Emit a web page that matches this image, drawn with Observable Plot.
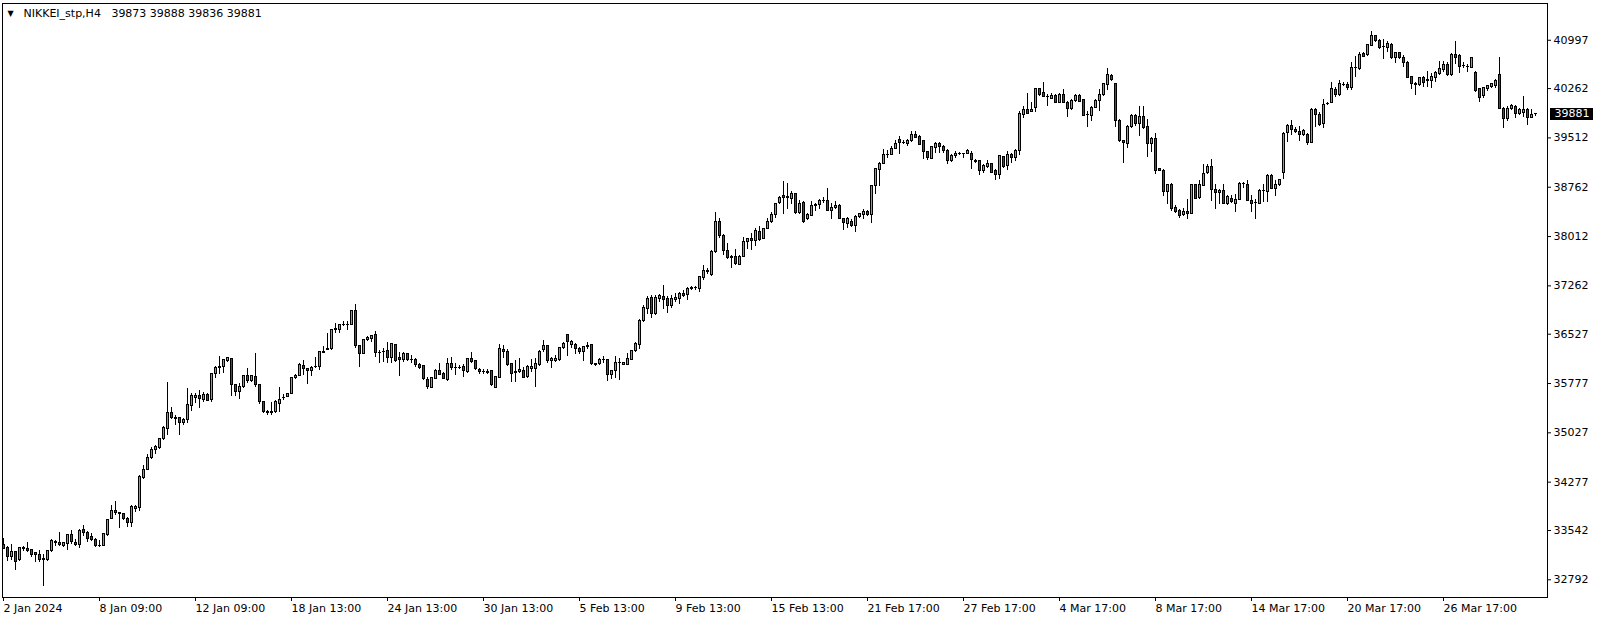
<!DOCTYPE html>
<html><head><meta charset="utf-8">
<script src="https://cdn.jsdelivr.net/npm/d3@7"></script>
<script src="https://cdn.jsdelivr.net/npm/@observablehq/plot@0.6"></script>
<style>
html,body{margin:0;padding:0;background:#fff;}
#chart svg{display:block;}
</style></head><body>
<div id="chart"></div>
<script>
const symbol = "NIKKEI_stp";
const timeframe = "H4";

const opens = [
33315,33280,33137,33219,33086,33254,33264,33244,33193,33168,
33091,33091,33229,33371,33356,33305,33330,33473,33356,33320,
33549,33498,33447,33396,33305,33305,33468,33712,33839,33804,
33788,33722,33651,33865,33880,34333,34460,34643,34770,34790,
34933,35085,35325,35248,35248,35172,35228,35442,35554,35584,
35528,35610,35528,35915,36011,36027,36118,36144,35747,35645,
35721,35884,35813,35874,35747,35493,35340,35335,35340,35467,
35555,35579,35620,35859,35894,36042,35991,35960,36022,36027,
36250,36290,36296,36587,36597,36668,36673,36673,36876,36342,
36230,36434,36459,36510,36240,36250,36266,36169,36357,36164,
36128,36220,36128,36128,36052,36037,35833,35711,35849,35966,
35915,35823,36067,36017,36012,36027,35950,36144,36113,35986,
35950,35945,35961,35706,35864,36291,36251,36067,35935,35950,
35966,35874,36001,35991,36062,36281,36347,36113,36113,36128,
36317,36510,36357,36357,36296,36256,36337,36357,36067,36067,
36128,36128,35899,35960,36093,36062,36062,36139,36271,36357,
36729,36917,37080,36841,37069,37095,37059,36952,37054,37069,
37136,37120,37217,37222,37212,37385,37481,37426,37772,38239,
38026,37792,37690,37700,37578,37705,37934,37975,37944,38077,
37970,38128,38239,38341,38519,38631,38601,38580,38662,38367,
38529,38275,38331,38484,38494,38555,38555,38407,38443,38484,
38280,38204,38239,38173,38316,38341,38387,38336,38774,39028,
39119,39252,39257,39348,39486,39435,39425,39460,39562,39526,
39460,39292,39196,39359,39425,39369,39318,39165,39242,39267,
39270,39272,39272,39165,39155,39002,39068,39114,39002,38952,
39216,39079,39257,39206,39308,39867,39933,39908,39969,40249,
40188,40132,40111,40147,40045,40157,40045,39959,40071,40147,
40081,39862,39842,39969,40071,40157,40310,40452,40325,39776,
39460,39425,39684,39842,39730,39826,39674,39425,39501,39043,
39012,38697,38799,38453,38402,38341,38392,38351,38789,38595,
38784,38977,39063,38723,38672,38712,38504,38590,38504,38570,
38809,38799,38555,38529,38509,38707,38697,38936,38733,38799,
38977,39587,39699,39638,39608,39552,39552,39435,39943,39867,
39725,40030,40045,40239,40157,40315,40310,40274,40569,40554,
40783,40768,40910,41063,40986,40895,40885,40925,40732,40798,
40722,40656,40437,40325,40310,40417,40381,40376,40417,40488,
40544,40620,40467,40773,40757,40600,40595,40579,40503,40249,
40147,40249,40284,40300,40467,39959,39806,39959,39979,39877,
39893,39943,39816,39873];

const highs = [
33417,33295,33330,33229,33290,33295,33366,33254,33214,33244,
33178,33244,33407,33391,33508,33366,33483,33549,33407,33560,
33620,33534,33493,33417,33396,33493,33712,33916,33982,33814,
33804,33738,33916,33916,34373,34536,34704,34806,34831,34948,
35126,35788,35416,35289,35264,35248,35706,35620,35620,35670,
35645,35630,35935,36037,36190,36139,36179,36154,35762,35772,
35899,36011,35899,36240,35757,35503,35366,35493,35518,35721,
35610,35630,35874,35915,36077,36128,36011,36037,36179,36266,
36342,36536,36602,36688,36678,36724,36714,36892,36983,36357,
36444,36495,36510,36561,36281,36306,36408,36393,36373,36256,
36256,36240,36205,36154,36088,36052,35874,35874,35986,36088,
35950,36154,36169,36078,36052,36062,36159,36256,36128,36001,
35986,35986,35976,35884,36373,36357,36291,36088,36128,36154,
36027,36052,36139,36154,36281,36434,36357,36169,36205,36322,
36408,36520,36424,36393,36332,36347,36408,36368,36078,36154,
36190,36139,35976,36190,36154,36103,36230,36281,36398,36749,
36958,37095,37120,37120,37130,37273,37095,37120,37146,37161,
37186,37232,37247,37258,37400,37578,37527,37807,38377,38290,
38036,37899,37731,37822,37731,37995,37985,38056,38128,38163,
38138,38280,38372,38519,38621,38850,38814,38697,38672,38555,
38545,38367,38545,38519,38570,38606,38748,38519,38545,38494,
38290,38300,38275,38326,38367,38417,38402,38789,39053,39140,
39333,39318,39374,39476,39537,39470,39486,39603,39613,39547,
39470,39308,39384,39445,39445,39394,39333,39257,39308,39292,
39282,39333,39308,39180,39170,39104,39170,39130,39028,39247,
39231,39308,39282,39333,39918,39994,40183,40055,40264,40259,
40350,40172,40183,40172,40183,40249,40071,40096,40172,40172,
40096,39918,39994,40096,40249,40340,40569,40478,40335,39791,
39475,39699,39867,39867,39994,39994,39791,39521,39572,39053,
39028,38809,38814,38478,38417,38443,38580,38809,38809,38860,
39114,39114,39191,38809,38733,38804,38631,38631,38646,38834,
38834,38865,38636,38580,38733,38799,38951,38951,38860,38875,
39598,39715,39781,39664,39679,39638,39577,39959,39954,39903,
40096,40055,40361,40274,40391,40350,40350,40666,40757,40818,
40818,40935,41124,41073,41002,41002,40971,40951,40818,40818,
40768,40671,40437,40350,40437,40452,40518,40488,40528,40681,
40671,40656,40793,40976,40773,40656,40630,40742,40518,40264,
40284,40315,40335,40401,40742,39979,39994,40020,40010,39959,
40147,39959,39943,39888];

const lows = [
33254,33076,33091,32934,33076,33229,33214,33137,33061,33051,
32694,33066,33214,33305,33295,33280,33244,33325,33295,33269,
33458,33366,33371,33285,33280,33295,33458,33702,33763,33575,
33687,33595,33585,33814,33829,34322,34450,34628,34704,34770,
34912,34984,35228,35137,34984,35137,35172,35355,35467,35391,
35493,35508,35493,35849,35915,35935,36098,35579,35579,35533,
35706,35772,35798,35721,35457,35315,35289,35289,35325,35340,
35518,35559,35610,35844,35884,35899,35762,35884,36001,35976,
36230,36281,36286,36536,36536,36637,36587,36663,36306,36016,
36215,36419,36408,36179,36088,36103,36088,36077,36098,35884,
36103,36113,36078,36027,35991,35823,35681,35696,35833,35900,
35833,35808,35976,35900,35986,35874,35935,36078,35976,35915,
35910,35915,35732,35696,35849,36154,36037,35798,35798,35925,
35859,35859,35950,35711,36037,36256,36088,36001,36093,36113,
36301,36190,36307,36220,36220,36118,36291,36052,36042,36052,
36078,35808,35838,35859,35823,36052,36052,36128,36256,36296,
36698,36825,36764,36805,37008,36907,36841,36917,37003,36978,
37085,37034,37186,37186,37161,37349,37441,37400,37756,37985,
37721,37670,37527,37578,37568,37690,37817,37802,37868,37944,
37960,38117,38214,38290,38494,38351,38417,38494,38351,38341,
38214,38255,38316,38392,38428,38509,38392,38265,38417,38265,
38097,38138,38153,38077,38290,38265,38316,38214,38646,38774,
39104,39206,39242,39333,39257,39409,39374,39445,39496,39394,
39180,39170,39191,39282,39282,39272,39104,39145,39206,39242,
39206,39257,39038,39119,38941,38977,39043,38967,38860,38875,
39053,39012,39130,39155,39247,39806,39867,39893,39893,40142,
40121,39984,40096,40035,40030,40030,39816,39933,40055,40045,
39842,39664,39765,39954,39908,40137,40233,40376,39664,39445,
39130,39358,39648,39689,39526,39638,39216,39297,38962,39002,
38621,38494,38392,38366,38290,38316,38265,38341,38570,38580,
38773,38962,38544,38428,38494,38494,38484,38519,38377,38560,
38748,38544,38382,38275,38494,38529,38529,38723,38621,38773,
38875,39435,39547,39577,39460,39526,39394,39425,39664,39679,
39654,40004,40035,40132,40137,40300,40239,40233,40427,40539,
40732,40757,40900,40961,40859,40706,40808,40706,40645,40706,
40579,40417,40249,40162,40300,40284,40274,40259,40350,40467,
40503,40452,40452,40630,40488,40569,40503,40569,40208,40045,
40111,40223,40264,40264,39943,39653,39765,39928,39806,39852,
39816,39704,39806,39836];

const closes = [
33264,33137,33214,33061,33280,33280,33229,33168,33168,33091,
33102,33229,33381,33346,33315,33356,33473,33366,33320,33534,
33498,33407,33396,33305,33310,33483,33702,33839,33804,33800,
33712,33661,33900,33900,34348,34465,34643,34770,34806,34933,
35096,35325,35248,35244,35172,35228,35452,35584,35584,35543,
35610,35518,35915,36011,36027,36128,36164,35747,35645,35721,
35884,35813,35884,35747,35493,35340,35335,35345,35503,35533,
35559,35620,35859,35894,36052,35991,35960,36011,36027,36250,
36245,36296,36587,36612,36663,36673,36668,36881,36342,36230,
36434,36470,36500,36240,36235,36256,36169,36373,36118,36128,
36220,36128,36139,36052,36017,35839,35722,35859,35966,35910,
35849,36067,36017,36012,36017,35961,36144,36103,36001,35950,
35955,35940,35747,35874,36296,36256,36062,35925,35950,35976,
35864,36027,36027,36067,36256,36347,36113,36149,36149,36317,
36373,36408,36408,36296,36256,36332,36342,36067,36062,36128,
36133,35899,35960,36093,36088,36093,36144,36271,36373,36729,
36927,37069,36841,37080,37110,37054,36952,37059,37080,37136,
37105,37212,37222,37232,37390,37487,37476,37782,38239,38021,
37792,37680,37695,37593,37705,37934,37975,37944,38097,37960,
38128,38239,38341,38509,38601,38596,38606,38662,38367,38509,
38229,38341,38478,38494,38555,38560,38402,38453,38484,38280,
38214,38280,38173,38316,38351,38387,38336,38774,39038,39119,
39247,39257,39348,39425,39435,39440,39470,39562,39511,39409,
39292,39206,39369,39425,39369,39308,39165,39242,39272,39270,
39267,39318,39180,39145,39002,39079,39114,38977,38952,39231,
39068,39257,39206,39308,39877,39943,39882,39943,40249,40157,
40132,40137,40147,40045,40157,40045,39959,40071,40147,40060,
39852,39867,39969,40071,40157,40325,40462,40391,39776,39460,
39430,39684,39842,39730,39826,39664,39425,39501,39012,39012,
38697,38799,38433,38392,38331,38392,38351,38789,38585,38799,
38967,39063,38723,38672,38712,38504,38606,38534,38570,38814,
38814,38555,38509,38524,38707,38712,38936,38733,38799,38865,
39577,39699,39628,39598,39557,39623,39435,39943,39867,39704,
40020,40035,40249,40157,40325,40310,40274,40569,40574,40768,
40747,40920,41063,40986,40885,40900,40935,40732,40798,40722,
40645,40427,40325,40320,40417,40350,40386,40437,40503,40554,
40620,40467,40767,40732,40595,40605,40590,40732,40223,40121,
40264,40300,40325,40376,39959,39801,39959,39994,39877,39943,
39943,39816,39867,39881];

const xTickBars = [0,24,48,72,96,120,144,168,192,216,240,264,288,312,336,360];
const xTickLabels = ["2 Jan 2024","8 Jan 09:00","12 Jan 09:00","18 Jan 13:00","24 Jan 13:00","30 Jan 13:00","5 Feb 13:00","9 Feb 13:00","15 Feb 13:00","21 Feb 17:00","27 Feb 17:00","4 Mar 17:00","8 Mar 17:00","14 Mar 17:00","20 Mar 17:00","26 Mar 17:00"];
const yTickValues = [40997,40262,39512,38762,38012,37262,36527,35777,35027,34277,33542,32792];

const bullColor = "#00ff00";
const bearColor = "#ff0000";
const FONT = "'DejaVu Sans', sans-serif";

const n = Math.min(opens.length, highs.length, lows.length, closes.length);
const bars = d3.range(n).map(i => ({i, o: opens[i], h: highs[i], l: lows[i], c: closes[i]}));
const last = bars[bars.length - 1];
const bull = bars.filter(d => d.c >= d.o);
const bear = bars.filter(d => d.c < d.o);

const bodyOuter = {x1: "i", x2: "i", y1: "o", y2: "c", insetLeft: -1.25, insetRight: -1.75, insetTop: -0.5, insetBottom: -0.5, shapeRendering: "crispEdges"};
const bodyInner = {x1: "i", x2: "i", y1: "o", y2: "c", insetLeft: -0.25, insetRight: -0.75, insetTop: 0.5, insetBottom: 0.5, shapeRendering: "crispEdges"};

const chart = Plot.plot({
  width: 1604, height: 621,
  marginLeft: 2, marginRight: 57, marginTop: 3, marginBottom: 24,
  style: {fontFamily: FONT, fontSize: "11px", background: "#fff", color: "#000", overflow: "visible"},
  x: {domain: [-0.25, 386], axis: null},
  y: {domain: [32523, 41556], axis: null},
  marks: [
    Plot.ruleX(bars, {x: "i", y1: "l", y2: "h", stroke: "#000", strokeWidth: 1, shapeRendering: "crispEdges"}),
    Plot.rect(bars, {...bodyOuter, fill: "#000"}),
    Plot.rect(bull, {...bodyInner, fill: bullColor}),
    Plot.rect(bear, {...bodyInner, fill: bearColor}),
    Plot.frame({stroke: "#000", shapeRendering: "crispEdges"}),
    Plot.axisY(yTickValues, {anchor: "right", label: null, tickSize: 3, tickPadding: 3, tickFormat: d => String(d),
      stroke: "#000", fill: "#000", fontSize: 11, fontFamily: FONT}),
    Plot.axisX(xTickBars, {anchor: "bottom", label: null, tickSize: 4, tickPadding: 3, textAnchor: "start",
      tickFormat: d => xTickLabels[xTickBars.indexOf(d)], stroke: "#000", fill: "#000", fontSize: 11, fontFamily: FONT}),
    Plot.text(["\u25BC"], {frameAnchor: "top-left", dx: 5, dy: 10, textAnchor: "start", lineAnchor: "middle", fontSize: 8, fontFamily: FONT, fill: "#000"}),
    Plot.text([last], {frameAnchor: "top-left", dx: 21, dy: 10, textAnchor: "start", lineAnchor: "middle", fill: "#000", fontSize: 11, fontFamily: FONT,
      text: d => `${symbol},${timeframe}\u00a0\u00a0\u00a0${d.o} ${d.h} ${d.l} ${d.c}`}),
    Plot.text([last], {y: "c", frameAnchor: "right", dx: 7, textAnchor: "start", lineAnchor: "middle", fill: "#fff", fontSize: 11, fontFamily: FONT,
      text: d => String(d.c)})
  ]
});

document.getElementById("chart").append(chart);

const lastText = Array.from(chart.querySelectorAll("text")).find(el => el.textContent.trim() === String(last.c));
if (lastText) {
  const b = lastText.getBBox();
  const r = document.createElementNS("http://www.w3.org/2000/svg", "rect");
  r.setAttribute("x", b.x - 5);
  r.setAttribute("y", b.y + b.height / 2 - 6);
  r.setAttribute("width", b.width + 8);
  r.setAttribute("height", 12);
  r.setAttribute("fill", "#000");
  r.setAttribute("shape-rendering", "crispEdges");
  const tr = lastText.getAttribute("transform");
  if (tr) r.setAttribute("transform", tr);
  lastText.parentNode.insertBefore(r, lastText);
}
</script>
</body></html>
